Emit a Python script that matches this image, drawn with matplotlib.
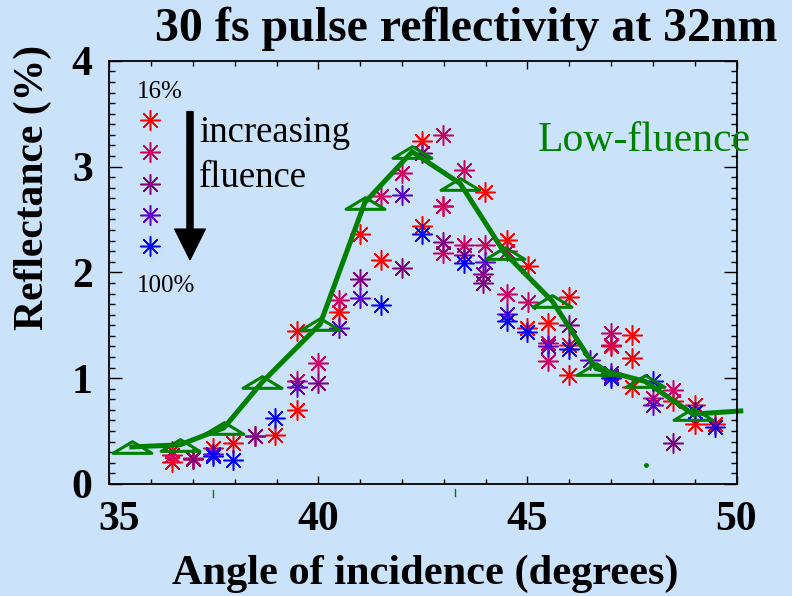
import matplotlib
matplotlib.use('Agg')
import matplotlib.pyplot as plt
from matplotlib.path import Path
from matplotlib.ticker import MultipleLocator
from matplotlib.transforms import offset_copy

# Reflectance (%) vs angle of incidence (deg), one list pair per fluence
red_x = [36.49, 36.49, 37.0, 37.48, 37.96, 38.96, 39.48, 39.48, 40.5, 40.99, 41.5, 42.48, 42.48,
         42.99, 43.98, 44.5, 45.02, 44.98, 45.5, 46.0, 46.0, 46.0, 47.0, 47.49, 47.49, 47.49,
         48.49, 49.0, 49.0, 49.49]
red_y = [0.31, 0.21, 0.24, 0.34, 0.39, 0.46, 0.70, 1.45, 1.63, 2.36, 2.12, 3.24, 2.44,
         2.63, 2.76, 2.31, 2.06, 1.47, 1.52, 1.77, 1.31, 1.03, 1.30, 1.41, 1.19, 0.92,
         0.78, 0.75, 0.57, 0.57]

crimson_x = [36.49, 37.0, 38.48, 39.48, 40.0, 40.5, 41.5, 41.99, 42.99, 43.49, 42.99, 42.99,
             43.49, 43.98, 44.5, 44.5, 45.02, 45.5, 45.5, 47.0, 47.0, 47.99, 48.49]
crimson_y = [0.27, 0.25, 0.45, 0.97, 1.14, 1.74, 2.72, 2.94, 3.30, 2.97, 2.63, 2.18,
             2.26, 2.26, 2.20, 1.80, 1.72, 1.33, 1.16, 1.43, 1.31, 0.81, 0.89]

purple_x = [37.0, 38.48, 40.0, 40.99, 41.99, 42.48, 42.99, 43.49, 43.94, 43.94, 46.0, 47.0, 48.49]
purple_y = [0.24, 0.45, 0.95, 1.94, 2.04, 3.13, 2.29, 2.16, 1.98, 1.90, 1.50, 1.02, 0.39]

violet_x = [37.48, 39.48, 40.5, 40.99, 41.99, 43.98, 44.5, 45.5, 46.5, 47.0, 47.99]
violet_y = [0.28, 0.92, 1.47, 1.76, 2.73, 2.10, 1.61, 1.30, 1.17, 1.05, 0.75]

blue_x = [37.48, 37.96, 38.96, 41.5, 42.48, 43.49, 44.5, 44.98, 46.0, 47.0, 47.99, 49.0, 49.49]
blue_y = [0.26, 0.23, 0.62, 1.69, 2.36, 2.09, 1.54, 1.44, 1.28, 1.00, 0.97, 0.68, 0.54]

# low-fluence reference curve
low_x = [35.54, 36.69, 37.74, 38.65, 40.04, 41.11, 42.24, 43.39, 44.46, 45.59, 46.64, 47.81, 48.96]
low_y = [0.35, 0.37, 0.53, 0.96, 1.51, 2.66, 3.14, 2.84, 2.18, 1.73, 1.09, 0.97, 0.66]
tail_x = [48.96, 50.1]
tail_y = [0.66, 0.69]

xticks = [35, 40, 45, 50]
yticks = [0, 1, 2, 3, 4]

bg = '#cbe3fa'
green = '#008000'
colors = ['#ff0000', '#cc0060', '#800080', '#5a00cc', '#0000ff']

plt.rcParams['font.family'] = ['Liberation Serif', 'DejaVu Serif']

fig = plt.figure(figsize=(7.92, 5.96), dpi=100, facecolor=bg)
ax = fig.add_axes([0.138, 0.188, 0.792, 0.710], facecolor=bg)

star = (8, 2, 0)
series = [(red_x, red_y), (crimson_x, crimson_y), (purple_x, purple_y),
          (violet_x, violet_y), (blue_x, blue_y)]
for (sx, sy), c in zip(series, colors):
    ax.plot(sx, sy, ls='none', marker=star, ms=14.5, mew=1.1, color=c)

# flat open triangle symbol
tri = Path([(-1, -0.3), (0, 0.3), (1, -0.3), (-1, -0.3)],
           [Path.MOVETO, Path.LINETO, Path.LINETO, Path.CLOSEPOLY])
ax.plot(low_x, low_y, color=green, lw=3.6, marker=tri, ms=28, mew=2.2,
        mfc='none', mec=green, solid_joinstyle='miter')
ax.plot(tail_x, tail_y, color=green, lw=3.6, clip_on=False)

# stray green marks
ax.plot([37.48, 37.48], [-0.06, -0.12], color=green, lw=1, clip_on=False)
ax.plot([43.26, 43.26], [-0.05, -0.11], color=green, lw=1, clip_on=False)
ax.plot([47.83], [0.18], 'o', color=green, ms=2.5, clip_on=False)

ax.set_xlim(35, 50)
ax.set_ylim(0, 4)
ax.set_xticks(xticks)
ax.set_yticks(yticks)
ax.xaxis.set_minor_locator(MultipleLocator(1))
ax.yaxis.set_minor_locator(MultipleLocator(0.1))
ax.tick_params(which='both', direction='in', top=True, right=True, width=1)
ax.tick_params(axis='x', which='major', length=6, pad=12)
ax.tick_params(axis='x', which='minor', length=3.5)
ax.tick_params(axis='y', which='major', length=9.5, pad=12)
ax.tick_params(axis='y', which='minor', length=4.5)
for lab in ax.get_xticklabels() + ax.get_yticklabels():
    lab.set_fontsize(30)
    lab.set_fontweight('bold')
first = ax.get_xticklabels()[0]
first.set_transform(offset_copy(first.get_transform(), fig=fig, x=10, y=0, units='dots'))
for sp in ax.spines.values():
    sp.set_linewidth(1.3)

# fluence key
key_y = [3.44, 3.14, 2.84, 2.54, 2.25]
for ky, c in zip(key_y, colors):
    ax.plot([35.97], [ky], marker=star, ms=14.5, mew=1.1, color=c)
ax.text(35.65, 3.65, '16%', fontsize=18, va='baseline', ha='left')
ax.text(35.65, 1.81, '100%', fontsize=18, va='baseline', ha='left')
ax.text(37.15, 3.236, 'increasing', fontsize=26.5, va='baseline', ha='left')
ax.text(37.15, 2.81, 'fluence', fontsize=26.5, va='baseline', ha='left')
ax.annotate('', xy=(36.93, 2.12), xytext=(36.93, 3.52),
            arrowprops=dict(arrowstyle='simple,head_width=1.1,head_length=1.1,tail_width=0.22',
                            mutation_scale=20, fc='black', ec='black',
                            shrinkA=0, shrinkB=0))
ax.text(45.25, 3.15, 'Low-fluence', fontsize=30, color=green, va='baseline', ha='left',
        clip_on=False)

fig.text(0.589, 0.952, '30 fs pulse reflectivity at 32nm', fontsize=34.5,
         fontweight='bold', ha='center', va='center')
fig.text(0.537, 0.038, 'Angle of incidence (degrees)', fontsize=30.5,
         fontweight='bold', ha='center', va='center')
fig.text(0.042, 0.685, 'Reflectance (%)', fontsize=30, fontweight='bold',
         ha='center', va='center', rotation=90)

fig.savefig('out.png', dpi=100, facecolor=bg)
